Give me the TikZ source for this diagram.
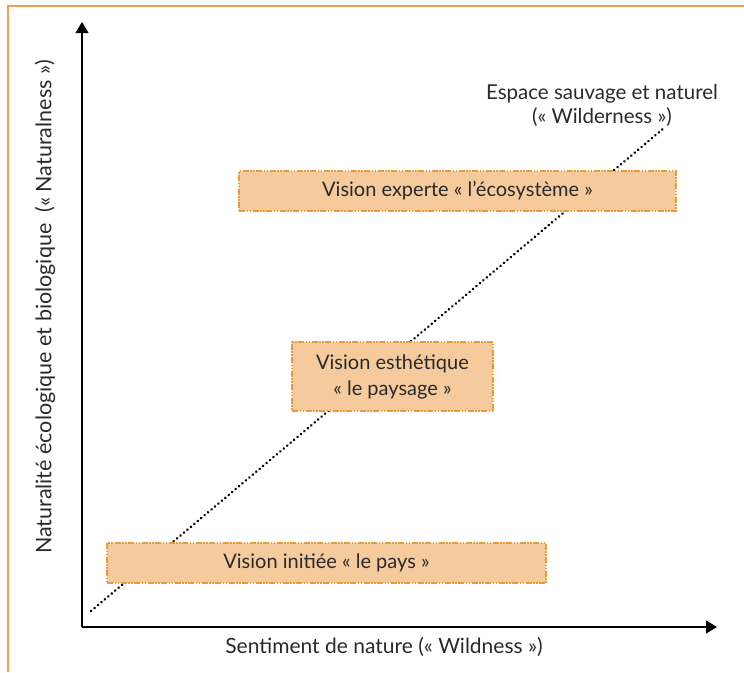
\documentclass[tikz,border=0pt]{standalone}
\usepackage{fontspec}
\setmainfont{Lato}
\usetikzlibrary{arrows.meta}
\definecolor{frameor}{HTML}{F0A04B}
\definecolor{boxfill}{HTML}{F5CB9E}
\definecolor{boxline}{HTML}{E89B3C}
\definecolor{txt}{HTML}{2A2A2A}
\tikzset{
  px/.style={x=1pt,y=-1pt},
  visionbox/.style={draw=boxline, fill=boxfill, line width=1.4pt,
    dash pattern=on 6pt off 1.5pt on 1.5pt off 1.5pt on 1.5pt off 1.5pt,
    rectangle, inner sep=0pt, text=txt, font=\fontsize{20}{26}\selectfont, align=center},
  lbl/.style={text=txt, align=center, inner sep=0pt},
  axis/.style={line width=1.1pt, -{Triangle[length=11pt,width=13pt]}},
  diag/.style={line width=2.6pt, dash pattern=on 0.3pt off 4.2pt, line cap=round}
}
\begin{document}
\begin{tikzpicture}[px]
\useasboundingbox (0,0) rectangle (744,672);
% frame
\draw[frameor, line width=1.6pt] (8,672) -- (8,6) -- (744,6);
% axes
\coordinate (O) at (82,627);
\coordinate (Ytop) at (82,22);
\coordinate (Xend) at (717,627);
\draw[axis] (O) -- (Ytop);
\draw[axis] (O) -- (Xend);
% dotted diagonal
\coordinate (d0) at (91,611);
\coordinate (d1) at (664,128);
\draw[diag] (d0) -- (d1);
% boxes
\node[visionbox, minimum width=437pt, minimum height=40pt] (expert) at (457.5,191) {Vision experte « l’écosystème »};
\node[visionbox, minimum width=201pt, minimum height=69pt] (esth) at (392.5,376.5) {Vision esthétique\\« le paysage »};
\node[visionbox, minimum width=439pt, minimum height=40pt] (initie) at (326.5,563) {Vision initiée « le pays »};
% labels
\node[lbl, font=\fontsize{20.5}{24}\selectfont] (wild) at (602,105) {Espace sauvage et naturel\\(« Wilderness »)};
\node[lbl, font=\fontsize{21}{24}\selectfont] (xlab) at (384,647) {Sentiment de nature (« Wildness »)};
\node[lbl, font=\fontsize{21.5}{24}\selectfont, rotate=90] (ylab) at (45,307) {Naturalité écologique et biologique~~(« Naturalness »)};
\end{tikzpicture}
\end{document}
